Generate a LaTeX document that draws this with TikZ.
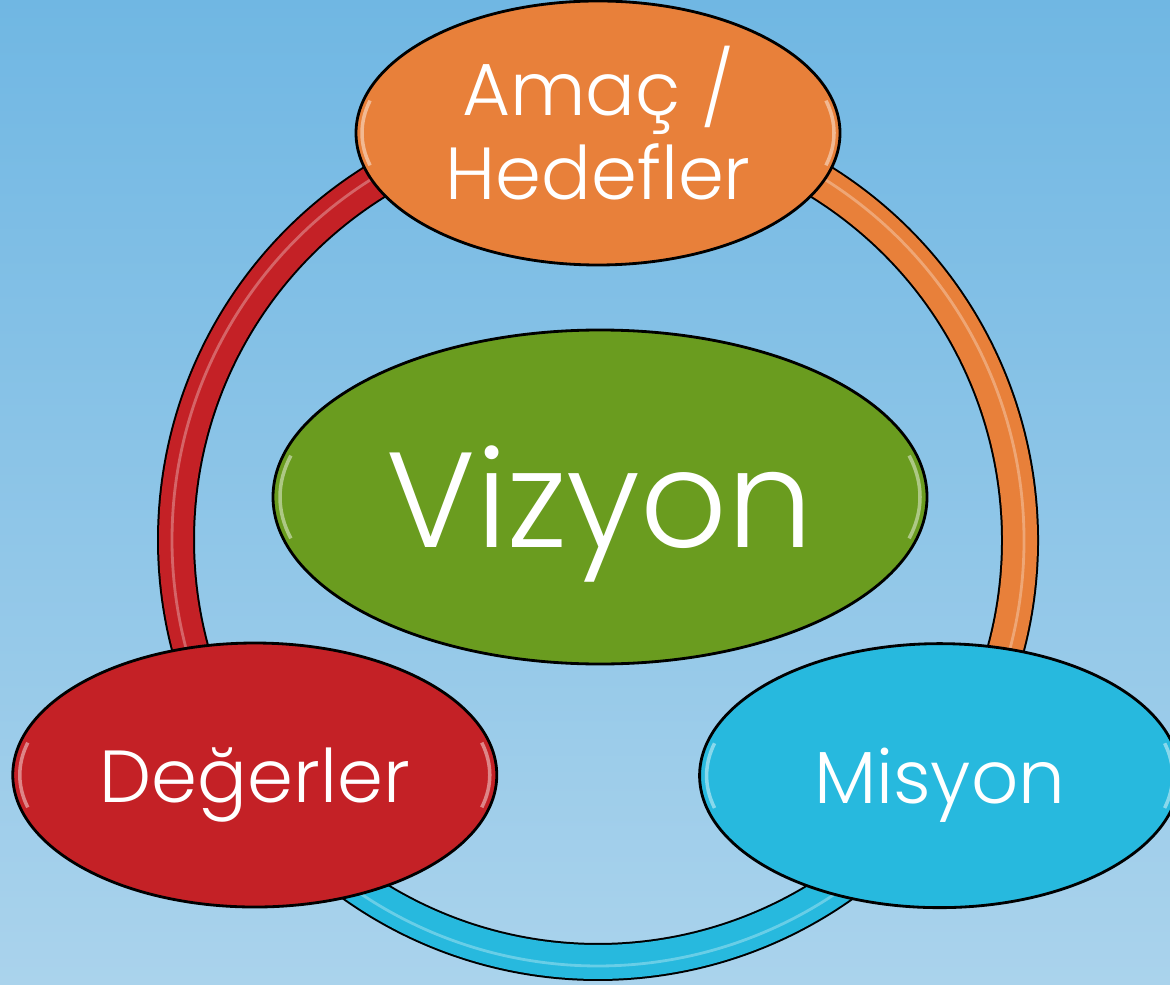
\documentclass[tikz,border=0pt]{standalone}
\usepackage{fontspec}
\setmainfont{Poppins Light}
\usetikzlibrary{shapes.geometric,positioning,calc}
\definecolor{bgtop}{RGB}{112,183,227}
\definecolor{bgbottom}{RGB}{170,211,236}
\definecolor{amacorange}{RGB}{232,128,58}
\definecolor{degerred}{RGB}{196,33,38}
\definecolor{misyonblue}{RGB}{39,185,222}
\definecolor{vizyongreen}{RGB}{106,156,31}
\tikzset{
  blob/.style={ellipse,draw=black,line width=0.8pt,inner sep=0pt,text=white,align=center,text depth=0pt},
  smallblob/.style={blob,minimum width=4.84cm,minimum height=2.64cm,font=\fontsize{21}{24}\selectfont},
  bigblob/.style={blob,minimum width=6.54cm,minimum height=3.34cm,font=\fontsize{38.5}{40}\selectfont},
}
\newcommand{\drawRingPart}[4]{
    \begin{scope}[shift={(#1)}]
        \draw[line width=0.38cm,black] (#2:\Rr) arc[start angle=#2,end angle=#3,radius=\Rr];
        \draw[line width=0.34cm,#4] (#2:\Rr) arc[start angle=#2,end angle=#3,radius=\Rr];
        \draw[line width=0.8pt,white,opacity=0.3] (#2:\Rr+0.04) arc[start angle=#2,end angle=#3,radius=\Rr+0.04];
    \end{scope}
}
\newcommand{\glossBlob}[3]{
    \draw[white,opacity=0.45,line width=1pt] ($(#1)+(165:#2 and #3)$) arc[start angle=165,end angle=195,x radius=#2,y radius=#3];
    \draw[white,opacity=0.45,line width=1pt] ($(#1)+(-15:#2 and #3)$) arc[start angle=-15,end angle=15,x radius=#2,y radius=#3];
}

\begin{document}
\begin{tikzpicture}[line join=round]
    \useasboundingbox (0,0) rectangle (11.7,9.84);
    \shade[top color=bgtop,bottom color=bgbottom] (0,0) rectangle (11.7,9.84);

    \coordinate (ringc) at (5.98,4.44);
    \def\Rr{4.22}

    \drawRingPart{ringc}{90}{214.4}{degerred}
    \drawRingPart{ringc}{214.4}{325.4}{misyonblue}
    \drawRingPart{ringc}{-34.6}{90}{amacorange}

    \node[smallblob,fill=amacorange,text depth=0.2cm] (amac) at ($(ringc)+(90:4.07)$) {Amaç /\\Hedefler};
    \node[smallblob,fill=degerred] (degerler) at ($(ringc)+(214.4:4.16)$) {Değerler};
    \node[smallblob,fill=misyonblue,minimum width=4.8cm] (misyon) at ($(ringc)+(325.4:4.15)$) {Misyon};
    \node[bigblob,fill=vizyongreen] (vizyon) at (6.00,4.87) {Vizyon};

    \glossBlob{amac}{2.36}{1.25}
    \glossBlob{degerler}{2.35}{1.25}
    \glossBlob{misyon}{2.33}{1.25}
    \glossBlob{vizyon}{3.20}{1.60}
\end{tikzpicture}
\end{document}
